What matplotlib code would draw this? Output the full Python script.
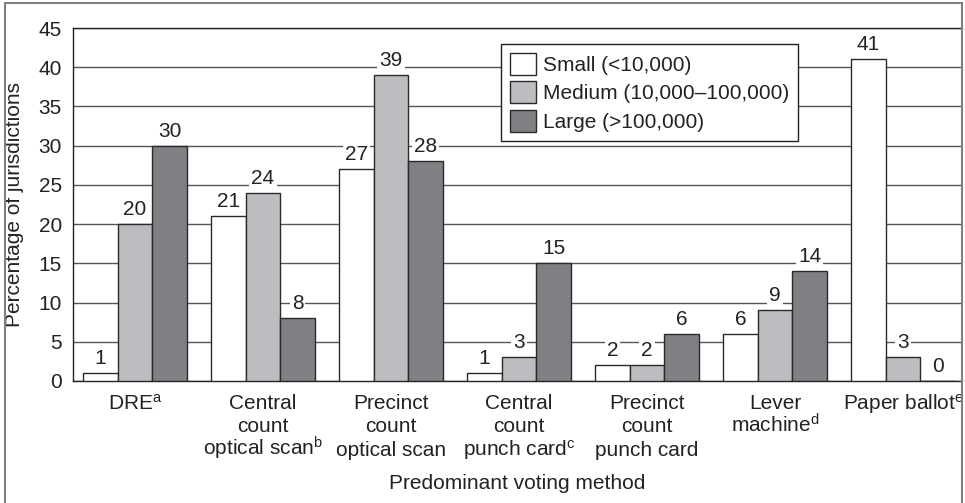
import matplotlib
matplotlib.use("Agg")
import matplotlib.pyplot as plt
import numpy as np
from matplotlib.patches import Rectangle

plt.rcParams['font.family'] = ['Liberation Sans', 'DejaVu Sans']
plt.rcParams['mathtext.default'] = 'regular'

categories = ["DRE$^{a}$", "Central\ncount\noptical scan$^{b}$", "Precinct\ncount\noptical scan",
              "Central\ncount\npunch card$^{c}$", "Precinct\ncount\npunch card",
              "Lever\nmachine$^{d}$", "Paper ballot$^{e}$"]
small = [1, 21, 27, 1, 2, 6, 41]
medium = [20, 24, 39, 3, 2, 9, 3]
large = [30, 8, 28, 15, 6, 14, 0]
series_names = ["Small (<10,000)", "Medium (10,000\u2013100,000)", "Large (>100,000)"]
colors = ["#ffffff", "#bcbdc1", "#7f8084"]
yticks = [0, 5, 10, 15, 20, 25, 30, 35, 40, 45]

FS = 15
TXT = "#222222"
W, H = 965, 503
fig = plt.figure(figsize=(W / 100, H / 100), dpi=100)
ax = fig.add_axes([73 / W, 1 - 381 / H, (962 - 73) / W, (381 - 28) / H])

x = np.arange(len(categories))
w = 0.27
for k, (vals, name, c) in enumerate(zip([small, medium, large], series_names, colors)):
    pos = x + (k - 1) * w
    ax.bar(pos, vals, width=w, color=c, edgecolor="#2a2a2a", linewidth=1.0, label=name, zorder=3)
    for px, v in zip(pos, vals):
        ax.annotate(str(v), (px, v), xytext=(0, 6.5), textcoords="offset points",
                    ha="center", va="baseline", fontsize=FS, color=TXT, zorder=5,
                    bbox=dict(boxstyle="square,pad=0.1", fc="white", ec="none"))

ax.set_xlim(-0.484, 6.46)
ax.set_ylim(0, 45)
ax.set_yticks(yticks)
ax.set_yticklabels([str(t) for t in yticks], fontsize=FS, color=TXT)
ax.tick_params(axis="y", length=0, pad=8)
ax.set_xticks(x)
ax.set_xticklabels([])
ax.tick_params(axis="x", length=0)

# category labels, one line at a time for even spacing
line_offsets_px = [28.3, 51.5, 74.5]
for xi, lab in zip(x, categories):
    for j, line in enumerate(lab.split("\n")):
        ax.annotate(line, (xi, 0), xycoords=("data", "axes fraction"),
                    xytext=(0, -line_offsets_px[j] * 0.72), textcoords="offset points",
                    ha="center", va="baseline", fontsize=FS, color=TXT)

ax.yaxis.grid(True, color="#555555", linewidth=1.0, zorder=0)
ax.set_axisbelow(True)
ax.spines["right"].set_visible(False)
for s in ["left", "bottom", "top"]:
    ax.spines[s].set_color("#222222")
    ax.spines[s].set_linewidth(1.0)

leg = ax.legend(loc="upper left", bbox_to_anchor=((501 - 73) / 889, (381 - 44) / 353),
                borderaxespad=0, fontsize=FS, fancybox=False, framealpha=1,
                edgecolor="#222222", handlelength=1.25, handleheight=1.25,
                labelspacing=0.31, handletextpad=0.34, borderpad=0.43)
leg.get_frame().set_linewidth(1.0)
for t in leg.get_texts():
    t.set_color(TXT)

fig.text(15 / W, 1 - 204 / H, "Percentage of jurisdictions", rotation=90,
         ha="center", va="center", fontsize=FS, color=TXT)
fig.text(517.5 / W, 1 - 489 / H, "Predominant voting method",
         ha="center", va="baseline", fontsize=FS, color=TXT)

fig.patches.append(Rectangle((4.5 / W, -0.05), (962 - 4.5) / W, 1.05 - 3.5 / H,
                             transform=fig.transFigure, fill=False,
                             edgecolor="#808080", linewidth=1.5, zorder=10))

fig.savefig("out.png", dpi=100)
